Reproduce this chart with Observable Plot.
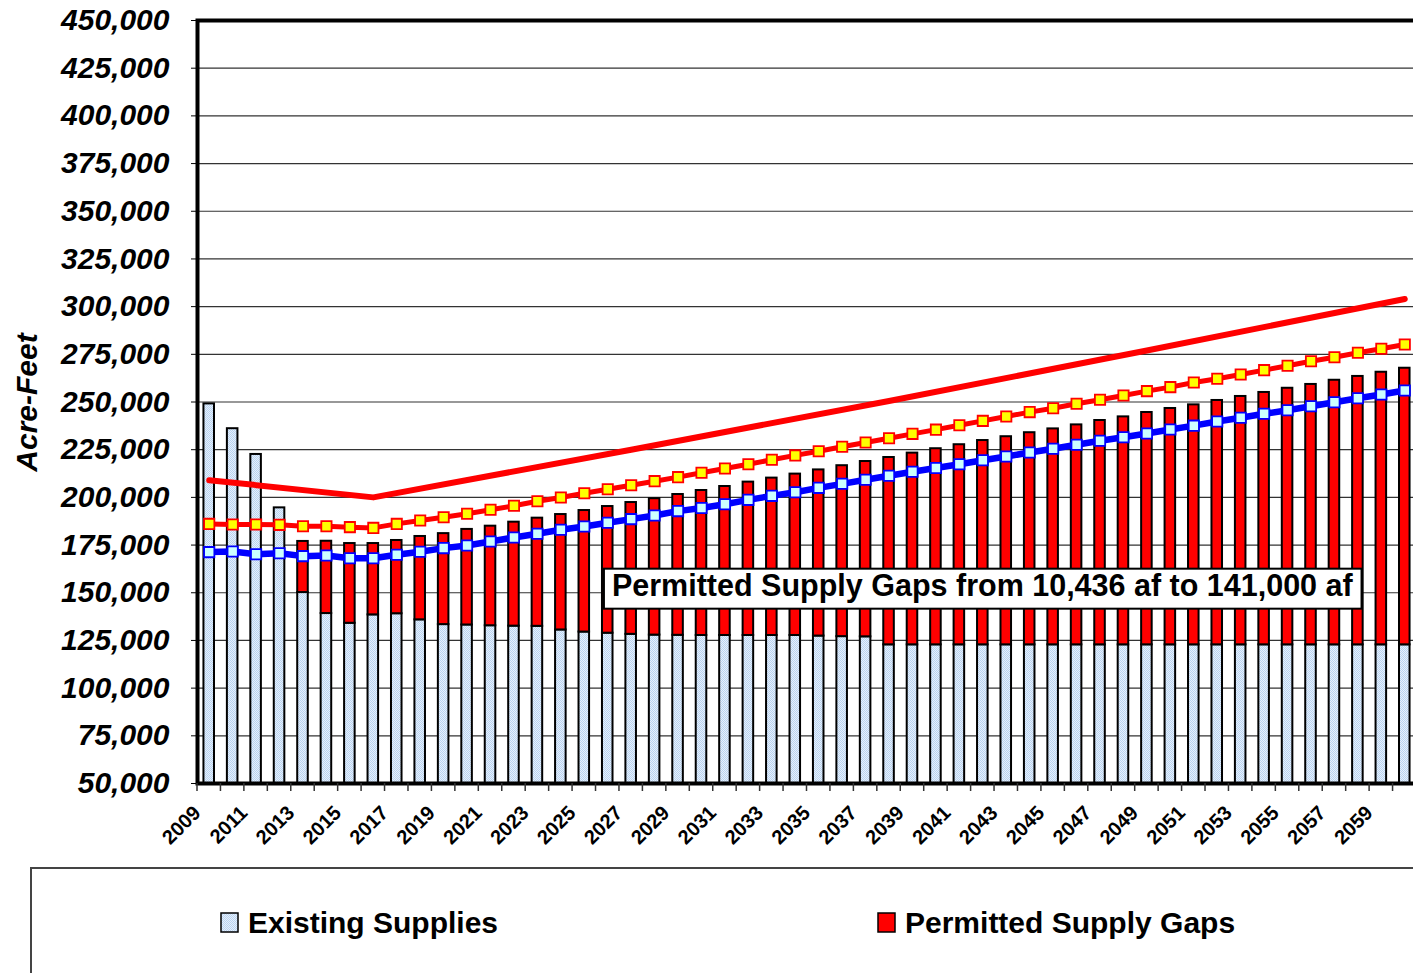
<!DOCTYPE html>
<html>
<head>
<meta charset="utf-8">
<script src="https://cdn.jsdelivr.net/npm/d3@7"></script>
<script src="https://cdn.jsdelivr.net/npm/@observablehq/plot@0.6"></script>
<style>
html, body { margin: 0; padding: 0; background: #fff; overflow: hidden; width: 1413px; height: 973px; }
#wrap { position: relative; width: 1413px; height: 973px; overflow: hidden; font-family: "Liberation Sans", Arial, sans-serif; }
#chart { position: absolute; left: 0; top: 0; width: 1416px; }
#chart svg { max-width: none !important; }
#legend { position: absolute; left: 0; top: 0; }
</style>
</head>
<body>
<div id="wrap">
  <div id="chart"></div>
  <svg id="legend" width="1413" height="973" style="pointer-events:none">
    <defs>
      <pattern id="dots" width="2" height="2" patternUnits="userSpaceOnUse">
        <rect width="2" height="2" fill="#e6f0fb"/>
        <rect x="0" y="0" width="1" height="1" fill="#b9d3f1"/>
        <rect x="1" y="1" width="1" height="1" fill="#b9d3f1"/>
      </pattern>
    </defs>
  </svg>
</div>
<script>
// ---------- data (acre-feet) ----------
const years = [2009,2010,2011,2012,2013,2014,2015,2016,2017,2018,2019,2020,2021,2022,2023,2024,2025,2026,2027,2028,2029,2030,2031,2032,2033,2034,2035,2036,2037,2038,2039,2040,2041,2042,2043,2044,2045,2046,2047,2048,2049,2050,2051,2052,2053,2054,2055,2056,2057,2058,2059,2060];

const existingSupplies = [249000,236000,222500,194500,150100,139100,134000,138400,139000,135800,133300,133100,132700,132500,132400,130500,129400,128800,128200,127800,127700,127600,127600,127600,127600,127600,127300,127000,126900,122700,122700,122700,122700,122700,122700,122700,122700,122700,122700,122700,122700,122700,122700,122700,122700,122700,122700,122700,122700,122700,122700,122700];

const permittedSupplyGaps = [null,null,null,null,26800,37900,41800,37400,38400,43700,47700,50100,52200,54500,56700,60500,63700,66400,69100,71500,73800,76000,78100,80400,82500,84600,87100,89600,91900,98200,100500,102800,104900,107100,109100,111200,113200,115300,117600,119500,121800,123900,125800,128100,130200,132300,134500,136500,138700,140700,142900,145000];

const demandYellow = [186100,185800,185800,185600,184900,184900,184400,184000,186100,187900,189600,191400,193500,195600,198000,199900,202200,204300,206400,208500,210600,212900,215100,217400,219700,222000,224200,226500,228800,231000,233300,235500,237800,240100,242400,244700,246700,249100,251200,253400,255700,257800,260200,262200,264400,266700,269000,271400,273500,275800,277900,280100];

const demandBlue = [171300,171600,170200,170700,169200,169500,168100,168100,169900,171500,173400,174800,176900,179000,180900,183000,184700,186700,188600,190500,192800,194400,196400,198700,200800,202700,205000,207100,209200,211300,213400,215400,217400,219500,221400,223500,225500,227600,229700,231500,233500,235600,237600,239800,241700,243800,245700,247800,249900,252000,253900,256000];

const demandRedYears = [2009, 2016, 2027, 2038, 2049, 2060];
const demandRedValues = [209000, 200000, 225000, 250500, 277000, 304000];

const seriesNames = ["Existing Supplies", "Permitted Supply Gaps"];
const xTickLabels = [2009,2011,2013,2015,2017,2019,2021,2023,2025,2027,2029,2031,2033,2035,2037,2039,2041,2043,2045,2047,2049,2051,2053,2055,2057,2059];
const yTicks = [50000,75000,100000,125000,150000,175000,200000,225000,250000,275000,300000,325000,350000,375000,400000,425000,450000];

const annotationText = "Permitted Supply Gaps from 10,436 af to 141,000 af";
const annotationYear = 2042;
const annotationValue = 153800;

// ---------- tables ----------
const barRows = [];
years.forEach((yr, i) => {
  barRows.push({year: yr, series: seriesNames[0], value: existingSupplies[i]});
  if (permittedSupplyGaps[i] != null) barRows.push({year: yr, series: seriesNames[1], value: permittedSupplyGaps[i]});
});
const lineRows = years.map((yr, i) => ({year: yr, yellow: demandYellow[i], blue: demandBlue[i]}));
const redRows = demandRedYears.map((yr, i) => ({year: yr, v: demandRedValues[i]}));

const FONT = "'Liberation Sans', Arial, Helvetica, sans-serif";

const plot = Plot.plot({
  width: 1416,
  height: 865,
  marginLeft: 197,
  marginRight: 0,
  marginTop: 20,
  marginBottom: 82,
  style: {fontFamily: FONT, background: "transparent", color: "black", maxWidth: "none"},
  x: {type: "band", domain: years, paddingInner: 0.55, paddingOuter: 0.275, round: false, label: null},
  y: {domain: [50000, 450000], clamp: true, label: null},
  color: {domain: seriesNames, range: ["url(#dots)", "#ff0000"]},
  marks: [
    Plot.gridY(yTicks, {stroke: "#333", strokeOpacity: 1, strokeWidth: 1.2}),
    Plot.barY(barRows, Plot.stackY({x: "year", y: "value", fill: "series", stroke: "black", strokeWidth: 2})),
    Plot.line(redRows, {x: "year", y: "v", stroke: "#ff0000", strokeWidth: 6}),
    Plot.line(lineRows, {x: "year", y: "yellow", stroke: "#ff0000", strokeWidth: 5}),
    Plot.dot(lineRows, {x: "year", y: "yellow", symbol: "square", r: 5.8, fill: "#ffff00", stroke: "#ff0000", strokeWidth: 1.8}),
    Plot.line(lineRows, {x: "year", y: "blue", stroke: "#0000ff", strokeWidth: 6.5}),
    Plot.dot(lineRows, {x: "year", y: "blue", symbol: "square", r: 5.8, fill: "#ccffff", stroke: "#0000ff", strokeWidth: 1.8}),
    Plot.axisY({ticks: yTicks, tickFormat: d3.format(","), tickSize: 6, tickPadding: 22, fontSize: 30, fontWeight: "bold", label: null}),
    Plot.axisX({ticks: xTickLabels, tickFormat: d => String(d), tickRotate: -45, tickSize: 0, tickPadding: 26, dx: -12, fontSize: 20, fontWeight: "bold", label: null}),
    Plot.frame({stroke: "black", strokeWidth: 4})
  ]
});
document.getElementById("chart").appendChild(plot);

const svg = d3.select(plot);
svg.style("max-width", "none");
svg.selectAll('g[aria-label="y-axis tick label"] text, g[aria-label="y-axis tick label"]').attr("font-style", "italic").attr("font-weight", "bold");

const xs = plot.scale("x"), ys = plot.scale("y");
const step = xs.step, bw = xs.bandwidth;
// category boundary ticks
const tickG = svg.append("g").attr("stroke", "#333").attr("stroke-width", 1.5);
years.forEach(yr => {
  const bx = xs.apply(yr) - (step - bw) / 2;
  tickG.append("line").attr("x1", bx).attr("x2", bx).attr("y1", 783).attr("y2", 791);
});

// y-axis title
svg.append("text")
  .attr("transform", `translate(37,${(ys.apply(450000) + ys.apply(50000)) / 2 + 1}) rotate(-90)`)
  .attr("text-anchor", "middle")
  .attr("font-family", FONT).attr("font-size", 30).attr("font-weight", "bold").attr("font-style", "italic")
  .text("Acre-Feet");

// annotation box
const ag = svg.append("g");
const arect = ag.append("rect");
const atext = ag.append("text")
  .attr("x", xs.apply(annotationYear) + bw / 2)
  .attr("y", ys.apply(annotationValue))
  .attr("dy", "0.35em")
  .attr("text-anchor", "middle")
  .attr("font-family", FONT).attr("font-size", 30.5).attr("font-weight", "bold")
  .text(annotationText);
const bb = atext.node().getBBox();
arect.attr("x", bb.x - 8).attr("y", bb.y + 1).attr("width", bb.width + 16).attr("height", bb.height + 5)
  .attr("fill", "white").attr("stroke", "black").attr("stroke-width", 2);

// legend
const lg = d3.select("#legend");
lg.append("path").attr("d", "M31,975 L31,868 L1420,868").attr("fill", "none").attr("stroke", "#444").attr("stroke-width", 2);
const legendItems = [
  {name: seriesNames[0], fill: "url(#dots)", x: 221},
  {name: seriesNames[1], fill: "#ff0000", x: 878}
];
legendItems.forEach(it => {
  lg.append("rect").attr("x", it.x).attr("y", 913).attr("width", 17).attr("height", 19)
    .attr("fill", it.fill).attr("stroke", "black").attr("stroke-width", 1.5);
  lg.append("text").attr("x", it.x + 27).attr("y", 933)
    .attr("font-family", FONT).attr("font-size", 30).attr("font-weight", "bold").text(it.name);
});
</script>
</body>
</html>
